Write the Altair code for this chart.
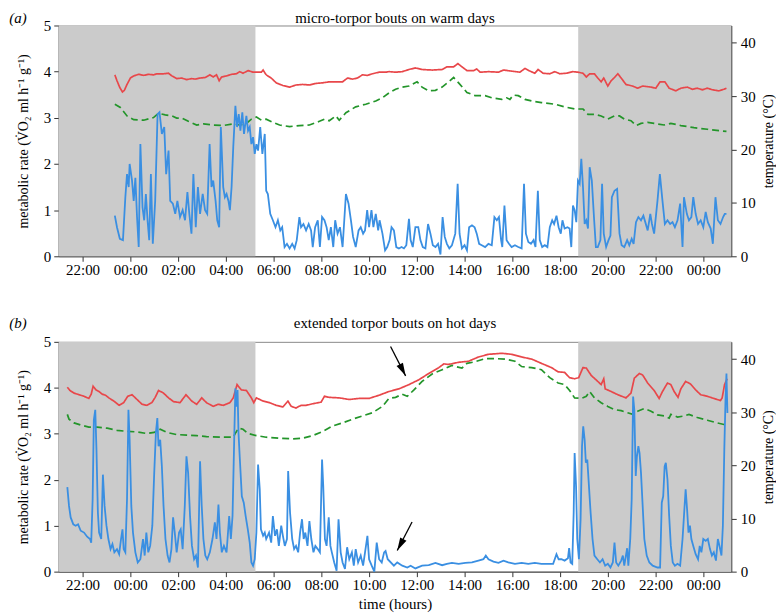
import altair as alt
import pandas as pd

FONT = "Liberation Serif"
RED = "#e8474a"
BLUE = "#3a8fe2"
GREEN = "#23952a"
SHADE = "#cbcbcb"

# time axis: hours after midnight of day 1 (21 = 21:00, 48 = 00:00 two days later)
X_DOMAIN = [21.0, 49.17]
TICK_HOURS = [22, 24, 26, 28, 30, 32, 34, 36, 38, 40, 42, 44, 46, 48]
NIGHT = [(21.0, 29.24), (42.76, 49.17)]

# ---------------- panel (a): micro-torpor bouts on warm days ----------------
A_RATE = [(23.35,0.88),(23.44,0.63),(23.56,0.38),(23.69,0.35),(23.79,1.28),(23.86,1.78),(23.93,1.5),(23.97,2.0),
(24.07,1.64),(24.14,1.2),(24.21,1.7),(24.28,0.85),(24.35,0.2),(24.42,2.43),(24.51,1.06),(24.58,0.78),(24.65,1.35),
(24.72,0.78),(24.79,0.35),(24.86,1.78),(24.94,0.27),(25.04,1.2),(25.14,3.08),(25.22,3.12),(25.32,2.65),(25.42,2.8),
(25.50,1.78),(25.60,2.29),(25.67,1.2),(25.78,1.14),(25.88,0.92),(25.97,1.2),(26.08,0.85),(26.19,1.0),(26.29,0.78),
(26.39,1.39),(26.47,0.92),(26.56,0.49),(26.64,1.78),(26.74,0.63),(26.83,1.5),(26.92,0.92),(27.03,1.35),(27.13,1.0),
(27.22,0.92),(27.32,2.43),(27.40,1.5),(27.47,1.64),(27.57,1.2),(27.64,0.78),(27.72,0.63),(27.79,2.8),(27.89,1.5),
(27.96,1.28),(28.03,1.35),(28.11,1.2),(28.17,1.0),(28.24,1.5),(28.31,2.36),(28.40,3.26),(28.47,2.8),(28.54,3.08),
(28.61,2.72),(28.69,3.12),(28.76,2.65),(28.86,3.04),(28.93,2.72),(29.00,2.8),(29.07,2.43),(29.14,2.58),(29.21,2.22),
(29.28,2.43),(29.35,2.29),(29.44,2.8),(29.53,2.22),(29.63,2.65),(29.69,1.42),(29.76,1.35),(29.86,0.92),(29.97,0.78),
(30.08,0.63),(30.18,0.78),(30.28,0.56),(30.36,0.63),(30.46,0.2),(30.56,0.27),(30.67,0.17),(30.78,0.27),(30.88,0.17),
(30.97,0.35),(31.08,0.85),(31.15,0.63),(31.25,0.7),(31.36,0.56),(31.47,0.7),(31.57,0.56),(31.64,0.2),(31.74,0.63),
(31.85,0.78),(31.94,0.2),(32.03,0.85),(32.13,0.78),(32.22,0.63),(32.31,0.35),(32.40,0.63),(32.50,0.2),(32.58,0.78),
(32.68,0.49),(32.78,0.63),(32.89,0.2),(33.03,1.35),(33.14,1.14),(33.24,0.78),(33.33,0.42),(33.44,0.2),(33.56,0.56),
(33.65,0.63),(33.75,0.49),(33.83,0.56),(33.92,1.0),(34.00,0.63),(34.10,1.0),(34.18,0.63),(34.28,0.92),(34.38,0.56),
(34.44,0.78),(34.56,0.49),(34.67,0.13),(34.76,0.2),(34.86,0.35),(34.94,0.63),(35.04,0.56),(35.14,0.2),(35.25,0.17),
(35.36,0.2),(35.46,0.17),(35.56,0.24),(35.67,0.81),(35.74,0.35),(35.83,0.2),(35.94,0.63),(36.06,0.63),(36.15,0.35),
(36.25,0.2),(36.36,0.17),(36.47,0.7),(36.57,0.49),(36.67,0.24),(36.78,0.2),(36.89,0.27),(36.99,0.04),(37.08,0.85),
(37.17,0.42),(37.26,0.27),(37.36,0.17),(37.47,0.24),(37.61,0.49),(37.71,1.57),(37.79,0.49),(37.89,0.17),(38.00,0.24),
(38.10,0.13),(38.19,0.63),(38.31,0.67),(38.42,0.63),(38.51,0.49),(38.61,0.27),(38.72,0.24),(38.86,0.2),(39.00,0.27),
(39.14,0.24),(39.25,0.85),(39.35,0.78),(39.44,0.85),(39.53,0.35),(39.58,0.2),(39.67,1.1),(39.76,0.35),(39.86,0.27),
(39.97,0.2),(40.11,0.24),(40.25,0.2),(40.39,0.17),(40.49,1.57),(40.57,0.49),(40.67,0.31),(40.78,0.27),(40.89,0.35),
(40.97,0.2),(41.07,1.42),(41.15,0.35),(41.25,0.2),(41.36,0.24),(41.47,0.2),(41.57,0.63),(41.67,0.78),(41.75,0.7),
(41.85,0.88),(41.94,0.63),(42.03,0.49),(42.10,0.78),(42.19,0.6),(42.31,0.63),(42.40,0.6),(42.47,0.2),(42.54,1.1),
(42.61,1.0),(42.68,0.74),(42.75,1.64),(42.82,1.57),(42.89,2.11),(42.96,1.5),(43.03,0.7),(43.10,0.78),(43.17,0.6),
(43.24,1.93),(43.33,1.64),(43.42,0.85),(43.50,0.2),(43.58,0.2),(43.69,0.35),(43.76,1.57),(43.83,0.49),(43.93,0.2),
(44.03,0.35),(44.11,0.45),(44.17,1.28),(44.28,1.42),(44.39,1.46),(44.49,0.49),(44.58,0.24),(44.69,0.2),(44.81,0.35),
(44.90,0.24),(45.00,0.38),(45.08,0.27),(45.18,0.74),(45.28,0.85),(45.39,0.78),(45.49,0.88),(45.57,0.74),(45.67,0.56),
(45.78,0.92),(45.85,0.7),(45.94,0.49),(46.08,1.2),(46.18,1.78),(46.29,1.2),(46.39,0.7),(46.50,0.78),(46.61,0.7),
(46.71,0.74),(46.81,0.63),(46.92,0.78),(47.03,1.14),(47.13,0.2),(47.19,1.28),(47.31,0.92),(47.40,0.78),(47.50,0.85),
(47.58,1.28),(47.68,0.92),(47.78,0.7),(47.89,0.78),(48.00,0.63),(48.10,0.96),(48.19,0.74),(48.31,0.6),(48.40,0.27),
(48.51,1.28),(48.61,0.78),(48.72,0.7),(48.83,0.85),(48.90,0.92),(48.97,0.92)]

A_BODY = [(23.35,34.0),(23.44,32.9),(23.56,31.6),(23.67,30.8),(23.75,31.1),(23.86,32.2),(24.0,33.4),(24.14,33.8),
(24.35,34.1),(24.56,33.9),(24.76,34.1),(24.97,34.0),(25.11,34.2),(25.39,34.2),(25.60,34.3),(25.74,33.8),(25.94,33.3),
(26.15,33.4),(26.36,33.1),(26.57,33.3),(26.71,33.2),(26.92,33.4),(27.13,33.5),(27.33,34.0),(27.47,33.6),(27.61,34.0),
(27.72,32.9),(27.82,33.6),(28.03,33.8),(28.24,34.1),(28.44,34.2),(28.58,34.6),(28.72,34.3),(28.93,34.8),(29.14,34.5),
(29.35,34.5),(29.49,34.5),(29.56,34.9),(29.69,34.0),(29.90,33.4),(30.11,32.5),(30.39,32.0),(30.67,31.7),(30.94,32.1),
(31.22,32.2),(31.50,32.1),(31.78,32.4),(32.06,32.5),(32.33,32.7),(32.61,32.7),(32.89,32.7),(33.10,33.4),(33.31,33.2),
(33.51,33.4),(33.72,34.0),(33.93,33.9),(34.14,34.2),(34.42,34.5),(34.69,34.5),(34.83,34.6),(35.11,34.5),(35.39,34.6),
(35.67,35.0),(35.94,35.3),(36.22,35.0),(36.64,34.9),(37.06,35.0),(37.26,35.5),(37.54,35.5),(37.72,36.1),(37.89,35.5),
(38.10,34.8),(38.38,34.8),(38.51,35.1),(38.65,34.5),(39.0,34.6),(39.42,34.5),(39.63,34.9),(39.97,34.7),(40.32,34.5),
(40.53,35.2),(40.74,34.7),(40.94,34.3),(41.08,35.0),(41.29,34.3),(41.57,34.2),(41.78,34.6),(41.99,34.2),(42.26,34.3),
(42.54,34.6),(42.75,34.5),(42.96,34.3),(43.10,33.6),(43.24,34.2),(43.44,34.2),(43.58,33.4),(43.72,32.7),(43.83,33.4),
(44.0,31.9),(44.14,32.9),(44.28,33.5),(44.42,34.2),(44.56,33.4),(44.76,32.2),(45.04,31.9),(45.25,31.5),(45.46,31.9),
(45.81,31.7),(46.01,31.5),(46.19,32.7),(46.39,32.7),(46.57,31.5),(46.85,31.0),(47.06,31.5),(47.33,31.7),(47.54,31.3),
(47.75,31.5),(47.96,31.2),(48.17,31.5),(48.38,31.2),(48.65,31.0),(48.86,31.3),(48.97,31.5)]

A_AMBIENT = [(23.35,28.5),(23.58,27.9),(23.86,26.3),(24.14,25.6),(24.56,25.5),(24.97,26.0),(25.18,26.8),(25.46,26.5),
(25.74,26.3),(25.94,25.9),(26.15,25.9),(26.43,25.3),(26.78,24.6),(27.06,24.8),(27.47,24.6),(27.89,24.5),(28.31,24.8),
(28.58,24.6),(28.86,24.9),(29.07,25.7),(29.28,26.1),(29.49,25.5),(29.69,25.7),(29.97,25.1),(30.25,24.6),(30.67,24.3),
(31.08,24.5),(31.50,24.6),(31.92,25.3),(32.13,25.7),(32.33,25.4),(32.61,26.3),(32.75,25.5),(33.03,26.9),(33.44,28.0),
(33.86,28.5),(34.28,29.1),(34.56,29.7),(34.83,30.6),(35.11,31.3),(35.39,31.7),(35.67,31.9),(36.01,32.7),(36.22,31.7),
(36.50,31.0),(36.78,31.1),(37.06,31.7),(37.33,32.7),(37.54,33.5),(37.75,32.5),(38.10,30.7),(38.44,30.1),(38.86,30.1),
(39.14,29.7),(39.56,29.4),(39.76,29.7),(39.90,29.4),(40.04,30.2),(40.25,30.1),(40.53,29.4),(40.81,29.1),(41.22,28.8),
(41.78,28.5),(42.19,28.0),(42.61,27.6),(42.96,27.6),(43.17,26.6),(43.44,26.6),(43.72,26.3),(44.0,25.7),(44.28,26.3),
(44.49,26.3),(44.69,25.7),(44.97,25.4),(45.18,24.5),(45.39,24.9),(45.67,25.1),(45.94,24.9),(46.36,24.6),(46.64,24.9),
(47.06,24.5),(47.61,24.1),(48.17,23.8),(48.72,23.5),(48.97,23.4)]

# ---------------- panel (b): extended torpor bouts on hot days ----------------
B_RATE = [(21.36,1.84),(21.43,1.43),(21.50,1.18),(21.61,1.03),(21.71,1.0),(21.81,1.03),(21.92,0.89),(22.06,0.85),
(22.19,0.76),(22.31,0.71),(22.36,0.63),(22.42,1.57),(22.47,3.3),(22.53,3.52),(22.58,2.66),(22.64,1.28),(22.69,0.85),
(22.78,0.71),(22.85,2.11),(22.92,1.43),(23.00,1.0),(23.08,0.71),(23.17,0.49),(23.25,0.6),(23.33,0.42),(23.44,0.49),
(23.53,0.38),(23.61,0.71),(23.67,0.92),(23.72,0.49),(23.79,0.42),(23.86,1.57),(23.92,3.52),(23.97,2.87),(24.04,1.43),
(24.11,0.85),(24.21,0.42),(24.31,0.2),(24.42,0.27),(24.53,0.71),(24.60,0.35),(24.67,0.85),(24.75,0.42),(24.83,0.56),
(24.92,1.0),(25.00,2.15),(25.07,3.02),(25.13,3.34),(25.18,2.73),(25.25,2.87),(25.32,2.29),(25.39,1.43),(25.47,0.71),
(25.56,0.35),(25.64,0.2),(25.72,0.49),(25.79,1.18),(25.86,0.85),(25.94,0.42),(26.04,0.85),(26.11,0.92),(26.19,0.49),
(26.28,1.43),(26.35,2.51),(26.42,2.15),(26.50,1.21),(26.58,0.56),(26.67,0.27),(26.75,0.35),(26.83,0.09),(26.92,2.4),
(26.99,1.43),(27.06,0.71),(27.14,0.35),(27.22,0.27),(27.33,0.42),(27.44,0.71),(27.54,1.07),(27.61,0.71),(27.69,1.46),
(27.75,0.85),(27.83,0.42),(27.92,0.56),(28.03,0.42),(28.14,1.21),(28.21,0.71),(28.28,1.21),(28.35,2.87),(28.40,3.99),
(28.44,3.59),(28.49,3.95),(28.53,3.02),(28.58,2.51),(28.67,1.64),(28.75,1.5),(28.83,1.21),(28.92,0.92),(29.00,0.63),
(29.07,0.2),(29.14,0.13),(29.21,0.27),(29.28,0.85),(29.35,2.33),(29.42,1.79),(29.47,0.92),(29.56,0.78),(29.63,0.85),
(29.69,0.71),(29.81,0.85),(29.90,0.63),(29.97,1.21),(30.06,0.78),(30.14,0.92),(30.22,0.56),(30.32,1.0),(30.39,0.78),
(30.47,0.56),(30.56,0.71),(30.61,2.19),(30.69,1.28),(30.78,0.71),(30.86,0.49),(30.94,0.56),(31.03,0.42),(31.11,0.85),
(31.19,1.14),(31.26,0.71),(31.33,0.85),(31.42,0.56),(31.50,1.1),(31.58,0.71),(31.67,0.42),(31.75,0.56),(31.85,0.49),
(31.94,0.42),(32.03,2.44),(32.08,1.86),(32.15,0.71),(32.22,0.56),(32.31,1.18),(32.38,0.56),(32.44,0.42),(32.54,0.2),
(32.64,0.02),(32.72,1.14),(32.81,0.42),(32.89,0.2),(32.99,0.06),(33.08,0.53),(33.17,0.27),(33.28,0.42),(33.36,0.13),
(33.44,0.49),(33.54,0.2),(33.65,0.35),(33.75,0.13),(33.83,0.42),(33.93,0.78),(34.00,0.27),(34.11,0.13),(34.22,0.0),
(34.32,0.63),(34.42,0.27),(34.53,0.2),(34.63,0.42),(34.69,0.45),(34.78,0.27),(35.04,0.13),(35.18,0.2),(35.39,0.13),
(35.60,0.09),(35.74,0.13),(35.94,0.07),(36.22,0.13),(36.50,0.14),(36.78,0.19),(37.06,0.14),(37.26,0.17),(37.47,0.19),
(37.75,0.17),(38.03,0.19),(38.31,0.2),(38.58,0.24),(38.79,0.27),(38.89,0.35),(39.00,0.27),(39.21,0.22),(39.42,0.19),
(39.63,0.24),(39.83,0.2),(40.11,0.17),(40.39,0.19),(40.67,0.17),(40.94,0.19),(41.22,0.17),(41.50,0.17),(41.71,0.17),
(41.85,0.38),(41.94,0.27),(42.06,0.27),(42.19,0.24),(42.33,0.29),(42.38,0.51),(42.44,0.2),(42.51,0.17),(42.57,1.28),
(42.61,2.58),(42.67,1.86),(42.72,0.71),(42.79,0.27),(42.86,1.14),(42.92,2.73),(42.97,3.16),(43.03,2.87),(43.08,2.37),
(43.14,2.44),(43.21,1.86),(43.28,1.28),(43.36,0.71),(43.44,0.35),(43.56,0.27),(43.67,0.2),(43.78,0.27),(43.89,0.13),
(44.00,0.17),(44.11,0.09),(44.21,0.2),(44.28,0.63),(44.35,0.2),(44.44,0.13),(44.56,0.24),(44.63,0.35),(44.69,0.13),
(44.81,0.51),(44.86,0.13),(44.94,0.71),(45.00,1.57),(45.06,3.81),(45.11,3.52),(45.17,2.08),(45.22,2.51),(45.28,2.73),
(45.33,2.58),(45.39,2.15),(45.46,1.43),(45.53,0.71),(45.63,0.35),(45.74,0.2),(45.88,0.13),(46.08,0.09),(46.19,0.09),
(46.26,1.5),(46.32,1.64),(46.38,2.29),(46.43,2.37),(46.50,2.0),(46.57,1.21),(46.64,0.56),(46.72,0.2),(46.81,0.13),
(46.92,0.17),(47.03,0.13),(47.13,0.71),(47.19,1.21),(47.26,1.79),(47.32,1.36),(47.38,0.85),(47.44,1.0),(47.50,0.71),
(47.58,0.56),(47.68,0.38),(47.78,0.27),(47.85,0.56),(47.92,0.42),(48.00,0.71),(48.10,0.67),(48.19,0.71),(48.28,0.49),
(48.36,0.35),(48.44,0.42),(48.53,0.24),(48.61,0.71),(48.69,0.53),(48.76,0.35),(48.82,1.0),(48.88,2.66),(48.93,3.74),
(48.97,4.31),(49.01,3.45)]

B_BODY = [(21.36,34.7),(21.47,34.1),(21.64,33.6),(21.85,33.3),(22.06,33.0),(22.26,32.6),(22.36,33.4),(22.44,34.9),
(22.56,34.2),(22.69,33.9),(22.82,33.4),(22.96,33.2),(23.10,32.7),(23.31,32.1),(23.53,31.3),(23.72,31.8),(23.89,33.0),
(24.07,33.3),(24.28,32.4),(24.49,31.5),(24.69,31.3),(24.90,31.8),(25.04,32.8),(25.18,34.1),(25.39,33.6),(25.60,32.7),
(25.81,32.0),(26.08,31.8),(26.33,33.3),(26.57,32.1),(26.78,31.5),(26.99,32.7),(27.19,31.8),(27.47,31.1),(27.68,31.5),
(27.89,31.3),(28.17,31.8),(28.31,32.7),(28.47,35.2),(28.65,34.2),(28.86,34.1),(29.07,32.7),(29.17,31.8),(29.28,32.7),
(29.56,32.1),(29.83,31.8),(30.11,31.3),(30.39,31.0),(30.60,32.1),(30.74,31.1),(30.94,30.8),(31.15,31.3),(31.36,31.3),
(31.64,31.6),(31.99,31.9),(32.13,33.0),(32.33,32.8),(32.75,32.7),(33.17,32.4),(33.58,32.6),(34.00,32.6),(34.42,33.2),
(34.83,33.9),(35.25,34.4),(35.67,35.2),(36.08,36.1),(36.50,37.3),(36.92,38.4),(37.13,39.1),(37.33,39.0),(37.75,39.4),
(38.17,39.6),(38.58,40.4),(39.00,40.9),(39.56,41.1),(39.97,40.9),(40.39,40.4),(40.81,40.0),(41.22,39.2),(41.64,38.4),
(41.92,37.6),(42.19,37.5),(42.40,36.5),(42.61,36.3),(42.78,36.5),(42.96,38.4),(43.10,38.3),(43.31,36.9),(43.51,36.1),
(43.72,35.2),(43.83,36.3),(43.89,34.4),(44.14,33.9),(44.42,33.3),(44.76,32.7),(44.97,33.6),(45.11,36.4),(45.32,37.3),
(45.46,37.0),(45.67,35.5),(45.94,34.1),(46.15,32.6),(46.29,33.9),(46.50,35.5),(46.64,35.2),(46.78,33.9),(46.94,32.8),
(47.06,34.4),(47.26,35.8),(47.47,35.3),(47.68,34.2),(47.89,33.3),(48.17,33.0),(48.44,32.6),(48.72,32.2),(48.79,32.7),
(48.89,35.2),(49.00,36.3)]

B_AMBIENT = [(21.36,29.6),(21.43,28.7),(21.64,28.0),(21.92,27.6),(22.26,27.2),(22.61,27.2),(23.03,27.0),(23.44,26.6),
(23.86,26.4),(24.28,26.3),(24.69,26.0),(25.00,26.2),(25.25,26.8),(25.53,26.2),(25.94,25.8),(26.36,25.7),(26.78,25.6),
(27.19,25.4),(27.75,25.3),(28.31,25.3),(28.42,26.2),(28.53,27.0),(28.72,26.8),(28.93,26.0),(29.28,25.6),(29.69,25.3),
(30.25,25.1),(30.81,25.0),(31.22,25.1),(31.64,25.6),(32.06,26.4),(32.47,27.4),(32.89,28.0),(33.31,28.7),(33.72,29.3),
(34.14,29.9),(34.56,31.1),(34.83,32.6),(35.11,32.8),(35.39,33.4),(35.60,33.0),(35.88,34.2),(36.22,35.8),(36.64,37.2),
(37.06,38.0),(37.47,38.8),(37.89,38.3),(38.10,39.2),(38.44,39.5),(38.86,40.1),(39.28,40.1),(39.69,40.0),(40.11,39.6),
(40.39,38.6),(40.81,38.4),(41.22,38.0),(41.57,36.5),(41.92,35.5),(42.19,35.2),(42.40,34.1),(42.61,32.7),(42.89,32.6),
(43.10,33.0),(43.24,33.9),(43.44,32.7),(43.72,31.8),(44.00,31.1),(44.28,30.5),(44.56,30.3),(44.83,29.9),(45.04,29.6),
(45.25,30.2),(45.53,30.7),(45.81,30.2),(46.08,29.5),(46.36,29.3),(46.57,28.9),(46.64,29.6),(46.92,29.1),(47.19,29.3),
(47.40,29.6),(47.75,29.0),(48.17,28.5),(48.58,28.0),(48.86,27.7),(49.00,27.9)]

# arrows in panel (b): tail hour, tail rate, head hour, head rate, head angle
B_ARROWS = [(34.90, 4.90, 35.53, 4.26, 153), (35.80, 1.08, 35.18, 0.46, 208)]

MET_TITLE = "metabolic rate (V\u0307O\u2082 ml h\u207b\u00b9 g\u207b\u00b9)"
TEMP_MAX = 43.25
ARROW_SHAPE = "M0,0L-0.55,2L0.55,2Z"
PLOT_W = 676


def x_enc(field, title):
    return alt.X(
        field, type="quantitative", title=title,
        scale=alt.Scale(domain=X_DOMAIN, nice=False, zero=False),
        axis=alt.Axis(values=TICK_HOURS, labelPadding=1, titlePadding=4, titleFontSize=15,
                      labelFont=FONT, titleFont=FONT,
                      labelExpr="(datum.value % 24 < 10 ? '0' : '') + (datum.value % 24) + ':00'"),
    )


def panel(rate, body, ambient, title, tag, xtitle, height, title_dy, arrows=None):
    night_df = pd.DataFrame(NIGHT, columns=["start", "end"])
    rate_df = pd.DataFrame(rate, columns=["hour", "rate"])
    temp_df = pd.concat([
        pd.DataFrame(body, columns=["hour", "temp"]).assign(series="body"),
        pd.DataFrame(ambient, columns=["hour", "temp"]).assign(series="ambient"),
    ])

    shade = alt.Chart(night_df).mark_rect(color=SHADE).encode(
        x=x_enc("start", xtitle), x2="end:Q", y=alt.value(0), y2=alt.value(height))

    temps = alt.Chart(temp_df).mark_line(strokeWidth=1.7).encode(
        x=x_enc("hour", xtitle),
        y=alt.Y("temp:Q", scale=alt.Scale(domain=[0, TEMP_MAX], nice=False, zero=False),
                axis=alt.Axis(orient="right", values=[0, 10, 20, 30, 40], title="temperature (\u00b0C)",
                              labelFont=FONT, titleFont=FONT,
                              titleAngle=270, titleBaseline="top", labelPadding=4, titlePadding=6)),
        color=alt.Color("series:N", scale=alt.Scale(domain=["body", "ambient"], range=[RED, GREEN]), legend=None),
        strokeDash=alt.StrokeDash("series:N", scale=alt.Scale(domain=["body", "ambient"], range=[[1, 0], [7, 4]]),
                                  legend=None),
    )

    met = alt.Chart(rate_df).mark_line(color=BLUE, strokeWidth=1.8).encode(
        x=x_enc("hour", xtitle),
        y=alt.Y("rate:Q", scale=alt.Scale(domain=[0, 5], nice=False, zero=False),
                axis=alt.Axis(orient="left", values=[0, 1, 2, 3, 4, 5], title=MET_TITLE,
                              labelFont=FONT, titleFont=FONT,
                              labelPadding=3, titlePadding=13)),
    )
    left_layers = [met]
    if arrows:
        arr_df = pd.DataFrame(arrows, columns=["hour", "rate", "hour2", "rate2", "ang"])
        left_layers.append(alt.Chart(arr_df).mark_rule(color="black", strokeWidth=1.3).encode(
            x=x_enc("hour", xtitle), x2="hour2:Q", y="rate:Q", y2="rate2:Q"))
        left_layers.append(alt.Chart(arr_df).mark_point(shape=ARROW_SHAPE, filled=True, color="black",
                                                        opacity=1, size=169, strokeWidth=0).encode(
            x=x_enc("hour2", xtitle), y="rate2:Q", angle=alt.Angle("ang:Q", scale=None)))
    left = alt.layer(*left_layers)

    text_df = pd.DataFrame({"tag": [tag], "title": [title]})
    tag_text = alt.Chart(text_df).mark_text(
        font=FONT, fontSize=15, fontStyle="italic", align="center", baseline="middle", color="black"
    ).encode(text="tag:N", x=alt.value(-41), y=alt.value(title_dy))
    title_text = alt.Chart(text_df).mark_text(
        font=FONT, fontSize=15, align="center", baseline="middle", color="black"
    ).encode(text="title:N", x=alt.value(PLOT_W / 2), y=alt.value(title_dy))

    return alt.layer(shade, temps, left, tag_text, title_text).resolve_scale(y="independent").properties(
        width=PLOT_W, height=height)


pa = panel(A_RATE, A_BODY, A_AMBIENT, "micro-torpor bouts on warm days", "(a)", None, 232, -8)
pb = panel(B_RATE, B_BODY, B_AMBIENT, "extended torpor bouts on hot days", "(b)", "time (hours)", 231, -19,
           arrows=B_ARROWS)

chart = alt.vconcat(pa, pb, spacing=37).properties(
    padding={"left": 0, "right": 0, "top": 0, "bottom": 0}
).configure_view(stroke="#888888", strokeWidth=1).configure_axis(
    labelFont=FONT, titleFont=FONT, labelFontSize=15, titleFontSize=14, titleFontWeight="normal",
    labelColor="black", titleColor="black", grid=False, tickColor="#333333", domainColor="#444444",
    tickSize=5,
)

chart.save("out.html", embed_options={"renderer": "svg", "actions": False})
